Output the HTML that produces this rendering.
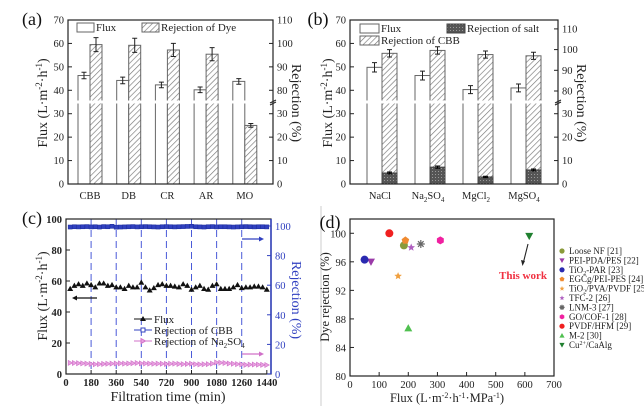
<!DOCTYPE html>
<html><head><meta charset="utf-8">
<style>
html,body{margin:0;padding:0;background:#fff;}
svg{display:block;font-family:"Liberation Serif",serif;}
.tk{font-size:10.5px;fill:#222;}
.tt{font-size:14px;fill:#222;}
.pl{font-size:18px;fill:#111;}
.lg{font-size:11px;fill:#222;}
</style></head>
<body>
<svg id="fig" width="644" height="408" viewBox="0 0 644 408">
<defs>
<pattern id="hatch" width="4" height="4" patternUnits="userSpaceOnUse" patternTransform="rotate(45)">
<rect width="4" height="4" fill="#fff"/><line x1="0" y1="0" x2="0" y2="4" stroke="#777" stroke-width="1.3"/></pattern>
<pattern id="dark" width="3" height="3" patternUnits="userSpaceOnUse">
<rect width="3" height="3" fill="#555"/><rect width="1" height="1" fill="#999"/></pattern>
</defs>
<g id="pa"></g>
<g id="pb"></g>
<g id="pc"></g>
<g id="pd"></g>
</svg>
<script>
// ---------- data ----------
const aCats=['CBB','DB','CR','AR','MO'];
const aFlux=[46.3,44.2,42.3,40.2,43.8];
const aFluxErr=[1.4,1.4,1.2,1.2,1.2];
const aRej=[99.5,99.2,97.2,95.4,25.0];
const aRejErr=[3.0,3.0,2.8,2.8,0.8];
const bCats=['NaCl','Na2SO4','MgCl2','MgSO4'];
const bFlux=[49.8,46.3,40.3,41.0];
const bFluxErr=[2.0,1.9,1.7,1.7];
const bRejCBB=[98.2,99.6,97.6,97.0];
const bRejCBBErr=[1.8,1.8,1.7,1.7];
const bRejSalt=[4.7,7.2,3.0,6.0];
const bRejSaltErr=[0.4,0.5,0.3,0.4];
const cTime=[30,60,90,120,150,180,210,240,270,300,330,360,390,420,450,480,510,540,570,600,630,660,690,720,750,780,810,840,870,900,930,960,990,1020,1050,1080,1110,1140,1170,1200,1230,1260,1290,1320,1350,1380,1410,1440];
const cFlux=[55,57,58,57,58.5,57.5,56,58.5,58.5,57,57.5,56,56,55,57,56,56,59,56,54,55.5,57.5,58,57,57,56.5,56,58,57,54.5,56,57,55,54.5,57,58,55,55,55,56,57.5,55.5,56,56,56.5,56.5,56,54.5];
const cRejCBB=[99.3,99.5,99.4,99.5,99.6,99.4,99.5,99.3,99.6,99.5,99.8,99.2,99.3,99.4,99.5,99.6,99.4,99.5,99.6,99.5,99.4,99.3,99.5,99.6,99.5,99.4,99.5,99.6,99.7,99.8,99.5,99.4,99.3,99.5,99.6,99.4,99.5,99.5,99.4,99.3,99.4,99.5,99.6,99.5,99.4,99.5,99.5,99.4];
const cRejSalt=[7.5,7.4,7.3,7.2,7.0,6.8,6.6,6.7,6.8,6.9,7.0,7.1,7.2,7.0,7.1,7.3,7.4,7.2,7.1,7.0,6.9,7.0,6.9,6.8,6.9,7.0,6.8,6.7,6.8,6.9,6.6,6.5,6.6,6.7,7.0,7.8,7.6,7.4,7.1,6.9,6.7,6.5,6.2,6.3,6.4,6.3,6.2,6.1];
const cXTicks=[0,180,360,540,720,900,1080,1260,1440];
const cYTicks=[0,20,40,60,80,100];
const dNames=['Loose NF [21]','PEI-PDA/PES [22]','TiO2-PAR [23]','EGCg/PEI-PES [24]','TiO2/PVA/PVDF [25]','TFC-2 [26]','LNM-3 [27]','GO/COF-1 [28]','PVDF/HFM [29]','M-2 [30]','Cu2+/CaAlg'];
const dFlux=[185,72,50,190,165,210,243,310,135,200,615];
const dRej=[98.3,96.0,96.3,99.0,94.0,98.0,98.5,99.0,100.0,86.7,99.6];
const dColors=['#8a9a3a','#9a3aa8','#2a2ab0','#f08a30','#f0a040','#b060c0','#666','#f020a0','#f02020','#50c050','#208030'];
const dShapes=['circle','tridown','circle','pent','star','star','aster','hex','circle','triup','tridown'];
const dXTicks=[0,100,200,300,400,500,600,700];
const dYTicks=[80,84,88,92,96,100];

const NS='http://www.w3.org/2000/svg';
function mk(parent,tag,attrs,text){const e=document.createElementNS(NS,tag);for(const k in attrs)e.setAttribute(k,attrs[k]);if(text!==undefined)e.textContent=text;parent.appendChild(e);return e;}
function errbar(g,x,y1,y2,col){
  const e=mk(g,'path',{d:`M${x-2.5},${y1}H${x+2.5}M${x},${y1}V${y2}M${x-2.5},${y2}H${x+2.5}`,stroke:col||'#222','stroke-width':1,fill:'none'});
  
  
}
function txt(g,x,y,s,cls,anchor,extra){const t=mk(g,'text',Object.assign({x:x,y:y,class:cls,'text-anchor':anchor||'middle'},extra||{}),s);return t;}

// ---------- panel (a) ----------
(function(){
const g=document.getElementById('pa');
const L=68,R=273,T=20,B=184;
const yF=v=>B-v*(B-T)/70;
const yR=r=>yF(r>=75?r-40:r);
const cx=i=>90+i*38.7;
aCats.forEach((c,i)=>{
  const x=cx(i);
  const fb=mk(g,'rect',{x:x-12,y:yF(aFlux[i]),width:12,height:B-yF(aFlux[i]),fill:'#fff',stroke:'#666','stroke-width':1});
  
  
  const rb=mk(g,'rect',{x:x,y:yR(aRej[i]),width:12,height:B-yR(aRej[i]),fill:'url(#hatch)',stroke:'#666','stroke-width':1});
  
  
  errbar(g,x-6,yF(aFlux[i]+aFluxErr[i]),yF(aFlux[i]-aFluxErr[i]));
  errbar(g,x+6,yR(aRej[i]+aRejErr[i]),yR(aRej[i]-aRejErr[i]));
  txt(g,x,199,c,'tk');
});
mk(g,'rect',{x:L+1,y:yF(35)-1.5,width:R-L-2,height:3,fill:'#fff'});
mk(g,'rect',{x:L,y:T,width:R-L,height:B-T,fill:'none',stroke:'#222','stroke-width':1.2,});
for(let v=0;v<=70;v+=10){mk(g,'line',{x1:L,x2:L+4,y1:yF(v),y2:yF(v),stroke:'#222'});txt(g,L-4,yF(v)+3.5,v,'tk','end');}
[0,10,20,30,80,90,100,110].forEach(v=>{mk(g,'line',{x1:R-4,x2:R,y1:yR(v),y2:yR(v),stroke:'#222'});txt(g,R+4,yR(v)+3.5,v,'tk','start');});
mk(g,'path',{d:`M${R-3},${yF(35)+1}l6,-3M${R-3},${yF(35)+3}l6,-3`,stroke:'#222'});
txt(g,32,25,'(a)','pl','middle',{});
const yt=txt(g,0,0,'','tt','middle',{transform:'translate(47,103) rotate(-90)',});
yt.innerHTML='Flux (L·m<tspan dy="-5" font-size="9">-2</tspan><tspan dy="5">·h</tspan><tspan dy="-5" font-size="9">-1</tspan><tspan dy="5">)</tspan>';
txt(g,0,0,'Rejection (%)','tt','middle',{transform:'translate(292,103) rotate(90)',});
mk(g,'rect',{x:77,y:23,width:17,height:9,fill:'#fff',stroke:'#666'});
txt(g,96,31,'Flux','lg','start',{});
mk(g,'rect',{x:142,y:23,width:17,height:9,fill:'url(#hatch)',stroke:'#666'});
txt(g,161,31,'Rejection of Dye','lg','start',{});
})();

// ---------- panel (b) ----------
(function(){
const g=document.getElementById('pb');
const L=350,R=558,T=20,B=184;
const yF=v=>B-v*(B-T)/70;
const yR=r=>r>=75?91-(r-80)*2.07:yF(r);
const cx=i=>382+i*48;
const lab=['NaCl','Na<tspan dy="3" font-size="7">2</tspan><tspan dy="-3">SO</tspan><tspan dy="3" font-size="7">4</tspan>','MgCl<tspan dy="3" font-size="7">2</tspan>','MgSO<tspan dy="3" font-size="7">4</tspan>'];
bCats.forEach((c,i)=>{
  const x=cx(i);
  const fb=mk(g,'rect',{x:x-15,y:yF(bFlux[i]),width:15,height:B-yF(bFlux[i]),fill:'#fff',stroke:'#666'});
  
  
  const rb=mk(g,'rect',{x:x,y:yR(bRejCBB[i]),width:15,height:B-yR(bRejCBB[i]),fill:'url(#hatch)',stroke:'#666'});
  
  
  const sb=mk(g,'rect',{x:x,y:yR(bRejSalt[i]),width:15,height:B-yR(bRejSalt[i]),fill:'url(#dark)',stroke:'#444'});
  
  
  errbar(g,x-7.5,yF(bFlux[i]+bFluxErr[i]),yF(bFlux[i]-bFluxErr[i]));
  errbar(g,x+7.5,yR(bRejCBB[i]+bRejCBBErr[i]),yR(bRejCBB[i]-bRejCBBErr[i]));
  errbar(g,x+7.5,yR(bRejSalt[i]+bRejSaltErr[i]),yR(bRejSalt[i]-bRejSaltErr[i]),'#000');
  const t=txt(g,x-2,199,'','tk');t.innerHTML=lab[i];
});
mk(g,'rect',{x:L+1,y:yF(35)-1.5,width:R-L-2,height:3,fill:'#fff'});
mk(g,'rect',{x:L,y:T,width:R-L,height:B-T,fill:'none',stroke:'#222','stroke-width':1.2,});
for(let v=0;v<=70;v+=10){mk(g,'line',{x1:L,x2:L+4,y1:yF(v),y2:yF(v),stroke:'#222'});txt(g,L-4,yF(v)+3.5,v,'tk','end');}
[0,10,20,30,80,90,100,110].forEach(v=>{mk(g,'line',{x1:R-4,x2:R,y1:yR(v),y2:yR(v),stroke:'#222'});txt(g,R+4,yR(v)+3.5,v,'tk','start');});
mk(g,'path',{d:`M${R-3},${yF(35)+1}l6,-3M${R-3},${yF(35)+3}l6,-3`,stroke:'#222'});
txt(g,318,25,'(b)','pl','middle',{});
const yt=txt(g,0,0,'','tt','middle',{transform:'translate(332,103) rotate(-90)',});
yt.innerHTML='Flux (L·m<tspan dy="-5" font-size="9">-2</tspan><tspan dy="5">·h</tspan><tspan dy="-5" font-size="9">-1</tspan><tspan dy="5">)</tspan>';
txt(g,0,0,'Rejection (%)','tt','middle',{transform:'translate(577,103) rotate(90)',});
mk(g,'rect',{x:360,y:24,width:19,height:9,fill:'#fff',stroke:'#666'});
txt(g,381,32,'Flux','lg','start',{});
mk(g,'rect',{x:360,y:36,width:19,height:9,fill:'url(#hatch)',stroke:'#666'});
txt(g,381,44,'Rejection of CBB','lg','start',{});
mk(g,'rect',{x:447,y:24,width:18,height:9,fill:'url(#dark)',stroke:'#444'});
txt(g,467,32,'Rejection of salt','lg','start',{});
})();

// ---------- panel (c) ----------
(function(){
const g=document.getElementById('pc');
const L=66,R=271,T=219,B=374;
const x=t=>L+t*(R-L)/1470;
const yL=v=>B-v*(B-T)/100;
const yRr=v=>B-v*1.48;
cXTicks.slice(1,8).forEach(t=>mk(g,'line',{x1:x(t),x2:x(t),y1:T,y2:B,stroke:'#4a5ad8','stroke-dasharray':'7,4','stroke-width':1}));
cTime.forEach((t,i)=>{
  const px=x(t),py=yRr(cRejCBB[i]);
  const s=mk(g,'rect',{x:px-2,y:py-2,width:4,height:4,fill:'#3040c0',stroke:'#2030a0','stroke-width':0.6});
  
  
  const sy=yRr(cRejSalt[i]);
  const p=mk(g,'path',{d:`M${px-2},${sy-2.5}L${px+2.5},${sy}L${px-2},${sy+2.5}Z`,fill:'#e8a0e0',stroke:'#d070c8','stroke-width':0.6});
  
  
  const fy=yL(cFlux[i]);
  const f=mk(g,'path',{d:`M${px},${fy-3}L${px+3},${fy+2.2}L${px-3},${fy+2.2}Z`,fill:'#111'});
  
  
});
mk(g,'rect',{x:L,y:T,width:R-L,height:B-T,fill:'none',stroke:'#222','stroke-width':1.2,});
mk(g,'line',{x1:R,x2:R,y1:T,y2:B,stroke:'#3040c0','stroke-width':1.5});
cYTicks.forEach(v=>{mk(g,'line',{x1:L,x2:L+4,y1:yL(v),y2:yL(v),stroke:'#222'});txt(g,L-4,yL(v)+4,v,'tk','end',{'font-weight':'bold'});});
[0,20,40,60,80,100].forEach(v=>{mk(g,'line',{x1:R-4,x2:R,y1:yRr(v),y2:yRr(v),stroke:'#3040c0'});txt(g,R+4,yRr(v)+4,v,'tk','start',{fill:'#3040c0',style:'fill:#3040c0'});});
cXTicks.forEach(t=>{mk(g,'line',{x1:x(t),x2:x(t),y1:B,y2:B-4,stroke:'#222'});txt(g,x(t),386,t,'tk','middle',{'font-weight':'bold'});});
txt(g,32,224,'(c)','pl','middle',{});
const yt=txt(g,0,0,'','tt','middle',{transform:'translate(47,296) rotate(-90)',});
yt.innerHTML='Flux (L·m<tspan dy="-5" font-size="9">-2</tspan><tspan dy="5">·h</tspan><tspan dy="-5" font-size="9">-1</tspan><tspan dy="5">)</tspan>';
txt(g,0,0,'Rejection (%)','tt','middle',{transform:'translate(292,300) rotate(90)',style:'fill:#3040c0',});
txt(g,168,401,'Filtration time (min)','tt','middle',{});
mk(g,'path',{d:'M97,298H74',stroke:'#111','stroke-width':1.3});mk(g,'path',{d:'M72,298l5,-2.5v5z',fill:'#111'});
mk(g,'path',{d:'M242,239H261',stroke:'#3040c0','stroke-width':1.3});mk(g,'path',{d:'M264,239l-5,-2.5v5z',fill:'#3040c0'});
mk(g,'path',{d:'M242,354H261',stroke:'#d070c8','stroke-width':1.3});mk(g,'path',{d:'M264,354l-5,-2.5v5z',fill:'#d070c8'});
mk(g,'line',{x1:134,x2:152,y1:319,y2:319,stroke:'#111'});mk(g,'path',{d:'M143,316L146,321L140,321Z',fill:'#111'});
txt(g,154,323,'Flux','lg','start',{});
mk(g,'line',{x1:134,x2:152,y1:330,y2:330,stroke:'#3040c0'});mk(g,'rect',{x:141,y:328,width:4,height:4,fill:'#fff',stroke:'#3040c0'});
txt(g,154,334,'Rejection of CBB','lg','start',{});
mk(g,'line',{x1:134,x2:152,y1:341,y2:341,stroke:'#d070c8'});mk(g,'path',{d:'M141,338.5L145.5,341L141,343.5Z',fill:'#e8a0e0',stroke:'#d070c8'});
const lt=txt(g,154,345,'','lg','start',{});
lt.innerHTML='Rejection of Na<tspan dy="3" font-size="7">2</tspan><tspan dy="-3">SO</tspan><tspan dy="3" font-size="7">4</tspan>';
})();

// ---------- panel (d) ----------
(function(){
const g=document.getElementById('pd');
mk(g,'line',{x1:321,x2:321,y1:206,y2:406,stroke:'#ccc'});
const L=350,R=554,T=219,B=376;
const x=v=>L+v*(R-L)/700;
const y=v=>B-(v-80)*(B-T)/22;
function marker(px,py,shape,col,s){
  s=s||3;
  let d;
  if(shape==='circle'){return mk(g,'circle',{cx:px,cy:py,r:s,fill:col});}
  if(shape==='tridown')d=`M${px-s},${py-s*0.8}H${px+s}L${px},${py+s}Z`;
  else if(shape==='triup')d=`M${px-s},${py+s*0.8}H${px+s}L${px},${py-s}Z`;
  else if(shape==='aster')return mk(g,'path',{d:`M${px-s},${py}H${px+s}M${px},${py-s}V${py+s}M${px-s*.7},${py-s*.7}L${px+s*.7},${py+s*.7}M${px+s*.7},${py-s*.7}L${px-s*.7},${py+s*.7}`,stroke:col,'stroke-width':1.2});
  else{const n=shape==='pent'?5:shape==='hex'?6:10;let pts=[];for(let k=0;k<n;k++){const a=-Math.PI/2+k*2*Math.PI/n;const rr=shape==='star'&&k%2?s*0.45:s;pts.push((px+rr*Math.cos(a)).toFixed(1)+','+(py+rr*Math.sin(a)).toFixed(1));}d='M'+pts.join('L')+'Z';}
  return mk(g,'path',{d:d,fill:col});
}
dNames.forEach((n,i)=>{
  const m=marker(x(dFlux[i]),y(dRej[i]),dShapes[i],dColors[i],4);
  
  
  const ly=251+i*9.4;
  marker(562,ly,dShapes[i],dColors[i],2.6);
  const t=txt(g,569,ly+3,'','lg','start',{'style':'font-size:9px',});
  t.textContent=n;
  if(n.startsWith('TiO2')){t.innerHTML='TiO<tspan dy="2" font-size="6">2</tspan><tspan dy="-2">'+n.slice(4)+'</tspan>';}
  if(n.startsWith('Cu2+')){t.innerHTML='Cu<tspan dy="-3" font-size="6">2+</tspan><tspan dy="3">/CaAlg</tspan>';}
});
mk(g,'rect',{x:L,y:T,width:R-L,height:B-T,fill:'none',stroke:'#222','stroke-width':1.2,});
dYTicks.forEach(v=>{mk(g,'line',{x1:L,x2:L+4,y1:y(v),y2:y(v),stroke:'#222'});txt(g,L-4,y(v)+4,v,'tk','end');});
dXTicks.forEach(v=>{mk(g,'line',{x1:x(v),x2:x(v),y1:B,y2:B-4,stroke:'#222'});txt(g,x(v),388,v,'tk');});
txt(g,0,0,'Dye rejection (%)','tt','middle',{transform:'translate(329,297) rotate(-90)','style':'font-size:12.5px',});
const xt=txt(g,447,402,'','tt','middle',{'style':'font-size:12.5px',});
xt.innerHTML='Flux (L·m<tspan dy="-4" font-size="8">-2</tspan><tspan dy="4">·h</tspan><tspan dy="-4" font-size="8">-1</tspan><tspan dy="4">·MPa</tspan><tspan dy="-4" font-size="8">-1</tspan><tspan dy="4">)</tspan>';
mk(g,'path',{d:'M528,244L523.5,262',stroke:'#222','stroke-width':1.1});mk(g,'path',{d:'M522.5,266l-1.5,-6l4,1z',fill:'#222'});
txt(g,523,279,'This work','lg','middle',{style:'fill:#f03040;font-weight:bold;font-size:11px',});
txt(g,330,228,'(d)','pl','middle',{});
})();
</script>
</body></html>
